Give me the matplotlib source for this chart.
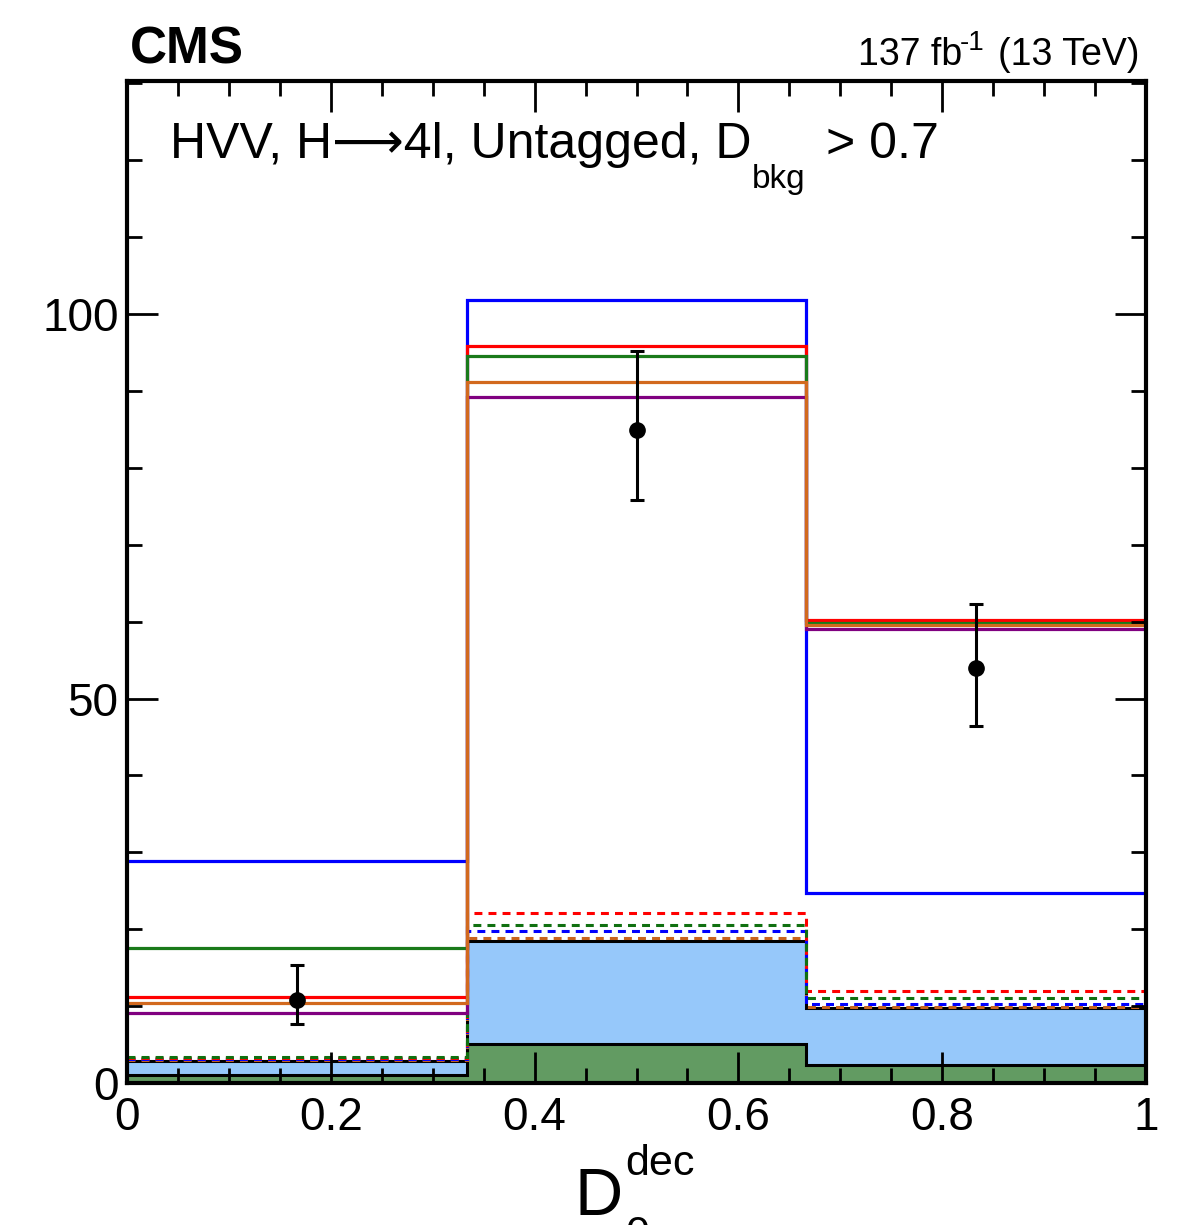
import matplotlib
matplotlib.use("Agg")
import matplotlib.pyplot as plt
from matplotlib.ticker import MultipleLocator

plt.rcParams['font.family'] = ['Liberation Sans', 'DejaVu Sans']

# ---- data ----
edges = [0.0, 1/3, 2/3, 1.0]
bkg_fill = [1.1, 5.1, 2.3]          # dark green background
stack_top = [2.8, 18.5, 9.7]        # light-blue stacked total
line_blue = [28.9, 101.8, 24.7]
line_red = [11.2, 95.8, 60.2]
line_green = [17.6, 94.5, 59.8]
line_purple = [9.1, 89.2, 59.0]
line_orange = [10.4, 91.2, 59.6]
dash_red = [3.2, 22.1, 11.9]
dash_green = [3.4, 20.5, 11.0]
dash_blue = [3.1, 19.8, 10.3]
dash_orange = [3.0, 18.9, 9.9]
data_x = [1/6, 0.5, 5/6]
data_y = [10.8, 84.9, 54.0]
err_up = [4.5, 10.3, 8.3]
err_down = [3.1, 9.1, 7.6]

W, H = 1195, 1225
fig = plt.figure(figsize=(W/100, H/100), dpi=100)
L, R, B, T = 127, 1146, 1083, 81
ax = fig.add_axes([L/W, 1-B/H, (R-L)/W, (B-T)/H])

ax.stairs(stack_top, edges, fill=True, color='#96c8fa', zorder=1)
ax.stairs(bkg_fill, edges, fill=True, color='#629b62', zorder=1.1)
ax.stairs(bkg_fill, edges, color='black', lw=2.2, baseline=None, zorder=1.2)
ax.stairs(stack_top, edges, color='black', lw=2.2, baseline=None, zorder=1.2)

ds = (0, (2.6, 2.0))
for vals, c in [(dash_orange, '#c8641e'), (dash_blue, '#0000ff'),
                (dash_red, '#ff0000'), (dash_green, '#107010')]:
    ax.stairs(vals, edges, color=c, lw=2.2, linestyle=ds, baseline=None, zorder=1.5)

for vals, c in [(line_blue, '#0000ff'), (line_red, '#ff0000'),
                (line_green, '#1a7a1a'), (line_purple, '#800080'),
                (line_orange, '#d2691e')]:
    ax.stairs(vals, edges, color=c, lw=2.3, baseline=None, zorder=2)

ax.errorbar(data_x, data_y, yerr=[err_down, err_up], fmt='o', color='black',
            ms=11, elinewidth=2.2, capsize=5, capthick=2.2, zorder=4)

ax.set_xlim(0, 1)
ax.set_ylim(0, 130.3)
ax.xaxis.set_minor_locator(MultipleLocator(0.05))
ax.yaxis.set_minor_locator(MultipleLocator(10))
ax.set_xticks([0, 0.2, 0.4, 0.6, 0.8, 1.0])
ax.set_xticklabels(['0', '0.2', '0.4', '0.6', '0.8', '1'])
ax.set_yticks([0, 50, 100])
ax.set_yticklabels(['0', '50', '100'])
ax.tick_params(which='both', direction='in', top=True, right=True, width=2, labelsize=33)
ax.tick_params(which='major', length=22)
ax.tick_params(which='minor', length=11)
ax.tick_params(axis='x', which='major', pad=9)
ax.tick_params(axis='y', which='major', pad=6)
ax.set_axisbelow(False)
for s in ax.spines.values():
    s.set_linewidth(3)
    s.set_zorder(5)

def px(x, y):
    return x / W, 1 - y / H

fig.text(*px(130, 63), 'CMS', fontsize=37, fontweight='bold', ha='left', va='baseline')
fig.text(*px(858, 65), '137 fb', fontsize=27, ha='left', va='baseline')
fig.text(*px(960, 50), '-1', fontsize=20, ha='left', va='baseline')
fig.text(*px(1140, 65), '(13 TeV)', fontsize=27, ha='right', va='baseline')

fig.text(*px(170, 158), 'HVV, H\u27f64l, Untagged, D', fontsize=36, ha='left', va='baseline')
fig.text(*px(752, 188), 'bkg', fontsize=24, ha='left', va='baseline')
fig.text(*px(826, 158), '> 0.7', fontsize=36, ha='left', va='baseline')

fig.text(*px(575, 1215), 'D', fontsize=48, ha='left', va='baseline')
fig.text(*px(625, 1175), 'dec', fontsize=31, ha='left', va='baseline')
fig.text(*px(625, 1246), '0-', fontsize=31, ha='left', va='baseline')

fig.savefig('out.png', dpi=100)
